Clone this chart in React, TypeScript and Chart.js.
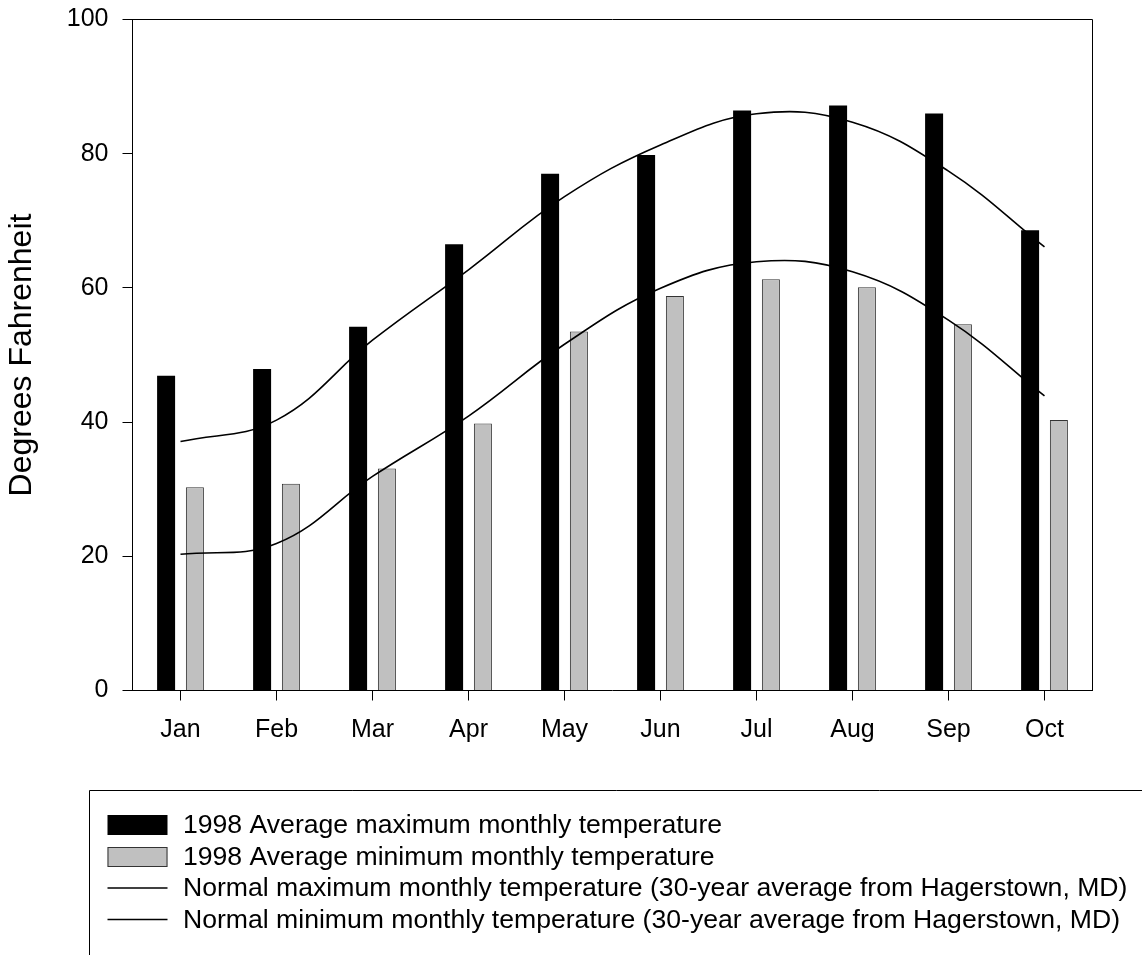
import React, { useEffect, useRef } from "react";
import { Chart, registerables } from "chart.js";

Chart.register(...registerables);

const months = ["Jan", "Feb", "Mar", "Apr", "May", "Jun", "Jul", "Aug", "Sep", "Oct"];
const avgMax1998 = [46.9, 47.9, 54.2, 66.5, 77.0, 79.8, 86.45, 87.2, 86.0, 68.6];
const avgMin1998 = [30.3, 30.8, 33.1, 39.8, 53.5, 58.8, 61.3, 60.1, 54.6, 40.3];
const normalMax = [37.1, 40.3, 52.2, 62.7, 73.6, 81.3, 85.95, 84.7, 77.4, 66.1];
const normalMin = [20.3, 21.9, 31.9, 40.9, 51.6, 59.95, 63.9, 62.4, 55.2, 43.9];
const seriesLabels = [
  "1998 Average maximum monthly temperature",
  "1998 Average minimum monthly temperature",
  "Normal maximum monthly temperature (30-year average from Hagerstown, MD)",
  "Normal minimum monthly temperature (30-year average from Hagerstown, MD)",
];
const yAxisTitle = "Degrees Fahrenheit";
const yMin = 0;
const yMax = 100;
const yStep = 20;

const FONT = "'Liberation Sans', Arial, Helvetica, sans-serif";

const framePlugin = {
  id: "frame",
  afterDraw(chart: any) {
    const { ctx, chartArea } = chart;
    ctx.save();
    ctx.strokeStyle = "#000";
    ctx.lineWidth = 1;
    ctx.beginPath();
    ctx.moveTo(chartArea.left, chartArea.top);
    ctx.lineTo(chartArea.right, chartArea.top);
    ctx.lineTo(chartArea.right, chartArea.bottom);
    ctx.stroke();
    ctx.restore();
  },
};

const legendPlugin = {
  id: "boxLegend",
  afterDraw(chart: any) {
    const { ctx } = chart;
    const W = chart.width;
    const H = chart.height;
    ctx.save();
    ctx.strokeStyle = "#000";
    ctx.lineWidth = 1;
    ctx.beginPath();
    ctx.moveTo(89.5, H + 5);
    ctx.lineTo(89.5, 790.5);
    ctx.lineTo(W + 5, 790.5);
    ctx.stroke();

    const rowY0 = 825;
    const rowGap = 31.5;
    const swX = 107.5;
    const swW = 60;
    const swH = 20;
    const textX = 183;
    ctx.font = `26.6px ${FONT}`;
    ctx.textBaseline = "middle";
    ctx.textAlign = "left";
    chart.data.datasets.forEach((ds: any, i: number) => {
      const y = rowY0 + rowGap * i;
      if (ds.type === "bar") {
        const top = Math.round(y - swH / 2);
        ctx.fillStyle = ds.backgroundColor;
        ctx.fillRect(swX, top, swW, swH);
        if (ds.borderWidth) {
          ctx.strokeStyle = ds.borderColor;
          ctx.lineWidth = 1;
          ctx.strokeRect(swX + 0.5, top + 0.5, swW - 1, swH - 1);
        }
      } else {
        ctx.strokeStyle = ds.borderColor;
        ctx.lineWidth = 1.5;
        ctx.beginPath();
        ctx.moveTo(swX, y);
        ctx.lineTo(swX + swW, y);
        ctx.stroke();
      }
      ctx.fillStyle = "#000";
      ctx.fillText(ds.label, textX, y + 1);
    });
    ctx.restore();
  },
};

export default function App() {
  const ref = useRef<HTMLCanvasElement | null>(null);

  useEffect(() => {
    document.body.style.margin = "0";
    const canvas = ref.current;
    if (!canvas) return;
    Chart.defaults.font.family = FONT;
    const chart = new Chart(canvas, {
      type: "bar",
      data: {
        labels: months,
        datasets: [
          {
            type: "bar",
            label: seriesLabels[0],
            data: avgMax1998,
            backgroundColor: "#000000",
            borderColor: "#000000",
            borderWidth: 0,
            categoryPercentage: 0.6,
            barPercentage: 0.625,
            order: 2,
          },
          {
            type: "bar",
            label: seriesLabels[1],
            data: avgMin1998,
            backgroundColor: "#c0c0c0",
            borderColor: "#333333",
            borderWidth: 1,
            categoryPercentage: 0.6,
            barPercentage: 0.625,
            order: 2,
          },
          {
            type: "line",
            label: seriesLabels[2],
            data: normalMax,
            borderColor: "#000000",
            borderWidth: 1.6,
            pointRadius: 0,
            tension: 0.4,
            fill: false,
            order: 1,
          },
          {
            type: "line",
            label: seriesLabels[3],
            data: normalMin,
            borderColor: "#000000",
            borderWidth: 1.6,
            pointRadius: 0,
            tension: 0.4,
            fill: false,
            order: 1,
          },
        ] as any,
      },
      options: {
        responsive: false,
        maintainAspectRatio: false,
        animation: false,
        layout: { padding: { left: 0, right: 49.5, top: 19.5, bottom: 204.5 } },
        plugins: {
          legend: { display: false },
          tooltip: { enabled: false },
          title: { display: false },
        },
        scales: {
          x: {
            type: "category",
            offset: true,
            grid: {
              display: true,
              drawOnChartArea: false,
              drawTicks: true,
              tickLength: 10,
              color: "#000",
              lineWidth: 1,
              offset: false,
            },
            border: { display: true, color: "#000", width: 1 },
            ticks: {
              color: "#000",
              font: { size: 25, family: FONT },
              padding: 15,
              maxRotation: 0,
              autoSkip: false,
            },
            afterFit: (s: any) => {
              s.height = 60;
              s.paddingLeft = 0;
              s.paddingRight = 0;
            },
          },
          y: {
            min: yMin,
            max: yMax,
            grid: {
              display: true,
              drawOnChartArea: false,
              drawTicks: true,
              tickLength: 10,
              color: "#000",
              lineWidth: 1,
            },
            border: { display: true, color: "#000", width: 1 },
            ticks: {
              stepSize: yStep,
              color: "#000",
              font: { size: 25, family: FONT },
              padding: 14,
            },
            title: {
              display: true,
              text: yAxisTitle,
              color: "#000",
              font: { size: 32, family: FONT },
              padding: { top: 3, bottom: 0 },
            },
            afterFit: (s: any) => {
              s.width = 132.5;
              s.paddingTop = 0;
              s.paddingBottom = 0;
            },
          },
        },
      } as any,
      plugins: [framePlugin, legendPlugin],
    });
    return () => chart.destroy();
  }, []);

  return (
    <canvas
      ref={ref}
      width={1142}
      height={955}
      style={{ display: "block", width: 1142, height: 955 }}
    />
  );
}
